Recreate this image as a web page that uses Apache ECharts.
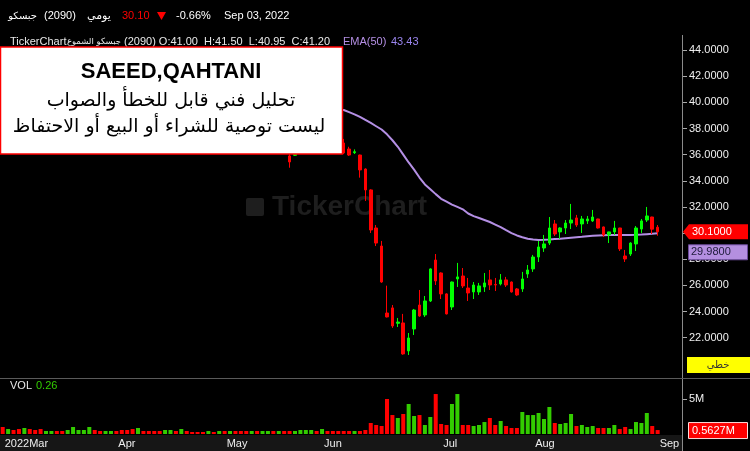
<!DOCTYPE html>
<html><head><meta charset="utf-8">
<script src="https://cdn.jsdelivr.net/npm/echarts@6/dist/echarts.min.js"></script>
<style>html,body{margin:0;padding:0;background:#000;overflow:hidden}#c{width:750px;height:451px}</style>
</head><body><div id="c"></div>
<script>
// ---- categories (trading days) ----
const marDays = [3,6,7,8,9,10,13,14,15,16,17,20,21,22,23,24,27,28,29,30,31];
const aprDays = [3,4,5,6,7,10,11,12,13,14,17,18,19,20,21,24,25,26,27,28];
const mayDays = [8,9,10,11,12,15,16,17,18,19,22,23,24,25,26,29,30,31];
const junDays = [1,2,5,6,7,8,9,12,13,14,15,16,19,20,21,22,23,26,27,28,29,30];
const julDays = [3,4,5,6,7,14,17,18,19,20,21,24,25,26,27,28,31];
const augDays = [1,2,3,4,7,8,9,10,11,14,15,16,17,18,21,22,23,24,25,28,29,30,31];
const sepDays = [1];
const monthLabels = ['2022Mar','Apr','May','Jun','Jul','Aug','Sep'];
const priceTicks = [22,24,26,28,30,32,34,36,38,40,42,44];
const volTicks = [5];

// ---- OHLC: [open, close, low, high] ----
const candles = [
[41.6,41.2,41.0,41.8],[41.2,41.5,41.0,41.7],[41.5,41.1,40.9,41.6],[41.1,40.7,40.5,41.3],[40.7,41.3,40.6,41.5],
[41.3,41.0,40.8,41.4],[41.0,40.6,40.4,41.1],[40.6,40.2,40.0,40.8],[40.2,40.6,40.1,40.8],[40.6,41.0,40.5,41.2],
[41.0,40.8,40.6,41.2],[40.8,40.5,40.3,40.9],[40.5,40.9,40.4,41.0],[40.9,41.6,40.8,41.8],[41.6,41.9,41.4,42.1],
[41.9,42.2,41.7,42.4],[42.2,42.9,42.1,43.1],[42.9,42.5,42.3,43.0],[42.5,42.2,42.0,42.6],[42.2,42.5,42.1,42.7],
[42.5,42.8,42.4,43.0],[42.8,42.4,42.2,42.9],[42.4,42.0,41.8,42.5],[42.0,41.6,41.4,42.1],[41.6,41.1,40.9,41.7],
[41.1,41.7,41.0,41.9],[41.7,41.4,41.2,41.8],[41.4,41.1,40.9,41.5],[41.1,40.9,40.7,41.2],[40.9,40.6,40.4,41.0],
[40.6,40.9,40.5,41.1],[40.9,41.2,40.8,41.4],[41.2,40.9,40.7,41.3],[40.9,41.4,40.8,41.6],[41.4,41.0,40.8,41.5],
[41.0,40.8,40.6,41.1],[40.8,40.5,40.4,40.9],[40.5,40.2,40.0,40.6],[40.2,40.5,40.1,40.7],[40.5,40.2,40.0,40.6],
[40.2,40.4,40.1,40.6],[40.4,39.9,39.7,40.5],[39.9,40.2,39.8,40.4],[40.2,39.7,39.5,40.3],[39.7,39.3,39.1,39.8],
[39.3,38.9,38.7,39.4],[38.9,39.2,38.8,39.4],[39.2,38.7,38.5,39.3],[38.7,39.0,38.6,39.2],[39.0,39.3,38.9,39.5],
[39.3,38.6,38.4,39.4],[38.6,38.9,38.3,39.1],[38.9,37.8,37.5,39.0],[35.90,35.44,35.00,36.40],[35.95,36.02,35.90,36.30],
[36.40,36.90,36.30,37.10],[36.90,37.40,36.70,37.60],[37.40,37.80,37.20,38.00],[37.80,37.40,37.20,37.90],[37.40,37.80,37.30,38.00],
[37.80,37.50,37.30,37.90],[37.50,37.20,37.00,37.60],[37.20,36.90,36.70,37.30],[36.89,36.13,36.05,37.20],[36.43,35.97,35.90,36.60],
[36.15,36.22,36.05,36.40],[35.97,34.83,34.24,36.00],[34.90,33.30,32.46,34.95],[33.30,30.24,30.01,33.35],[30.39,29.24,29.01,30.62],
[29.01,26.26,26.20,29.40],[23.89,23.59,23.55,25.98],[24.28,22.90,22.75,24.50],[23.10,23.20,22.82,23.51],[23.13,20.76,20.70,23.82],
[20.99,21.98,20.68,22.36],[22.67,24.12,22.21,24.20],[24.50,23.66,23.60,25.65],[23.74,24.81,23.59,25.19],[24.81,27.26,24.73,27.30],
[27.94,26.34,26.03,28.40],[26.95,25.35,24.96,27.00],[25.35,23.82,23.78,25.40],[24.35,26.26,24.12,26.30],[26.49,26.65,25.88,27.72],
[26.72,25.96,25.80,27.33],[25.80,25.42,24.81,26.57],[25.50,26.03,24.96,26.26],[25.50,25.96,25.27,26.19],[25.88,26.19,25.50,26.95],
[26.42,26.03,25.65,27.18],[26.07,26.03,25.57,26.57],[26.11,26.42,26.00,26.87],[26.42,26.03,25.88,26.65],[26.26,25.50,25.45,26.30],
[25.73,25.27,25.20,25.80],[25.73,26.49,25.50,27.03],[26.87,27.18,26.57,27.56],[27.26,28.17,27.03,28.33],[28.17,28.94,27.79,29.40],
[28.86,29.17,28.56,29.86],[29.24,30.39,29.09,31.23],[30.70,29.93,29.78,31.00],[30.09,30.39,29.55,30.45],[30.39,30.77,29.93,31.00],
[30.77,31.00,30.31,32.23],[31.16,30.62,30.47,31.39],[30.70,31.08,30.01,31.31],[30.93,31.08,30.70,31.31],[30.93,31.23,30.85,31.77],
[31.08,30.39,30.35,31.10],[30.47,29.86,29.70,30.50],[29.86,30.09,29.24,30.10],[30.09,30.39,29.86,30.93],[30.39,28.79,28.63,30.40],
[28.25,28.02,27.79,28.71],[28.40,29.24,28.25,29.30],[29.17,30.39,28.63,30.54],[30.31,30.93,30.01,31.08],[31.00,31.31,30.85,32.00],
[31.23,30.30,29.93,31.25],[30.45,30.10,29.80,30.62]
];

// ---- EMA(50) ----
const ema50 = [
43.43,43.35,43.27,43.18,43.11,43.03,42.94,42.84,42.76,42.70,
42.63,42.55,42.49,42.45,42.43,42.42,42.44,42.44,42.43,42.43,
42.44,42.44,42.42,42.38,42.33,42.30,42.26,42.21,42.15,42.09,
42.04,42.01,41.96,41.94,41.90,41.85,41.79,41.72,41.67,41.61,
41.56,41.49,41.44,41.37,41.28,41.19,41.12,41.03,40.95,40.89,
40.80,40.72,40.60,40.40,40.22,40.07,39.95,39.87,39.77,39.69,
39.60,39.52,39.45,39.41,39.25,39.08,38.88,38.65,38.42,38.17,
37.92,37.55,37.10,36.60,36.00,35.40,34.85,34.25,33.72,33.35,
32.98,32.62,32.40,32.18,32.00,31.82,31.50,31.30,31.15,31.00,
30.85,30.65,30.45,30.22,30.00,29.82,29.68,29.57,29.51,29.48,
29.49,29.51,29.54,29.57,29.61,29.65,29.69,29.72,29.76,29.79,
29.82,29.84,29.85,29.86,29.86,29.85,29.86,29.87,29.89,29.92,
29.95,29.98
];

// ---- volume (millions) ----
const volumes = [
1.00,0.71,0.57,0.71,0.86,0.71,0.57,0.71,0.43,0.43,
0.43,0.43,0.57,1.00,0.57,0.57,1.00,0.57,0.43,0.43,
0.43,0.43,0.57,0.57,0.71,0.86,0.43,0.43,0.43,0.43,
0.57,0.57,0.43,0.71,0.43,0.29,0.29,0.29,0.43,0.29,
0.43,0.43,0.43,0.43,0.43,0.43,0.43,0.43,0.43,0.43,
0.43,0.43,0.43,0.43,0.43,0.57,0.57,0.57,0.43,0.71,
0.43,0.43,0.43,0.43,0.43,0.43,0.43,0.57,1.57,
1.29,1.14,5.00,2.71,2.29,2.86,4.29,2.57,2.71,1.29,
2.43,5.71,1.43,1.29,4.29,5.71,1.29,1.29,1.14,1.29,
1.71,2.29,1.29,1.86,1.14,0.86,0.86,3.14,2.71,2.71,
3.00,2.14,3.86,1.57,1.43,1.57,2.86,1.14,1.29,1.00,
1.14,0.86,0.86,0.86,1.29,0.71,1.00,0.71,1.71,1.57,
3.00,1.14,0.5627
];

// ---- build categories ----
const months = [['03',marDays],['04',aprDays],['05',mayDays],['06',junDays],['07',julDays],['08',augDays],['09',sepDays]];
const dates = [];
const monthStart = {};
months.forEach(([m, days], mi) => {
  days.forEach((d, di) => {
    if (di === 0) monthStart[dates.length] = monthLabels[mi];
    dates.push('2022-' + m + '-' + String(d).padStart(2,'0'));
  });
});
const cats = dates.concat(['', '', '', '']);
const isStart = (i) => monthStart.hasOwnProperty(i);

const FONT = '"Liberation Sans", Arial, "DejaVu Sans", sans-serif';
const AR = '"DejaVu Sans", sans-serif';
const GREEN = '#00ff00', RED = '#ff0000';

const chart = echarts.init(document.getElementById('c'));
chart.setOption({
  backgroundColor: '#000',
  animation: false,
  grid: [
    {left: -1.5, right: 68, top: 35, height: 343},
    {left: -1.5, right: 68, top: 378, height: 56}
  ],
  xAxis: [
    {type: 'category', gridIndex: 0, data: cats, boundaryGap: true, show: false},
    {type: 'category', gridIndex: 1, data: cats, boundaryGap: true,
     axisLine: {show: false},
     axisTick: {show: true, inside: true, length: 3, alignWithLabel: true,
                interval: (i) => isStart(i), lineStyle: {color: '#aaa'}},
     axisLabel: {interval: (i) => isStart(i), formatter: (v, i) => monthStart[i] || '',
                 color: '#eeeeee', fontSize: 11, fontFamily: FONT, align: 'left',
                 margin: 4, padding: [0, 0, 0, 2]}}
  ],
  yAxis: [
    {type: 'value', gridIndex: 0, position: 'right', min: 18.92, max: 45.147, scale: true,
     splitLine: {show: false}, axisLine: {show: false},
     axisTick: {show: true, length: 5, lineStyle: {color: '#aaa'}, customValues: priceTicks},
     axisLabel: {customValues: priceTicks, formatter: (v) => v.toFixed(4), color: '#f0f0f0',
                 fontSize: 11, fontFamily: FONT, margin: 7}},
    {type: 'value', gridIndex: 1, position: 'right', min: 0, max: 8,
     splitLine: {show: false}, axisLine: {show: false},
     axisTick: {show: true, length: 5, lineStyle: {color: '#aaa'}, customValues: volTicks},
     axisLabel: {customValues: volTicks, formatter: (v) => v + 'M', color: '#f0f0f0',
                 fontSize: 11, fontFamily: FONT, margin: 7}}
  ],
  series: [
    {type: 'line', xAxisIndex: 0, yAxisIndex: 0, data: ema50, symbol: 'none', z: 1,
     lineStyle: {color: '#b48fe4', width: 2}},
    {type: 'candlestick', xAxisIndex: 0, yAxisIndex: 0, data: candles, barWidth: 3, z: 3,
     itemStyle: {color: GREEN, color0: RED, borderColor: GREEN, borderColor0: RED,
                 borderColorDoji: GREEN, borderWidth: 1}},
    {type: 'bar', xAxisIndex: 1, yAxisIndex: 1, data: volumes, barWidth: 4,
     itemStyle: {color: (p) => { const c = candles[p.dataIndex]; return c[1] >= c[0] ? '#33cc00' : RED; }}}
  ]
});

// annotation positions from scales
const lastC = candles[candles.length - 1][1];
const lastE = ema50[ema50.length - 1];
const lastV = volumes[volumes.length - 1];
const yP = chart.convertToPixel({yAxisIndex: 0}, lastC);
const yV = chart.convertToPixel({yAxisIndex: 1}, lastV);

function txt(text, x, y, fill, font, align, z) {
  return {type: 'text', z: z || 50, style: {text, x, y, fill, font, align: align || 'left', verticalAlign: 'middle',
          textAlign: align || 'left', textVerticalAlign: 'middle'}};
}
const g = [
  // x-axis band
  {type: 'rect', z: -5, shape: {x: 0, y: 435, width: 682, height: 16}, style: {fill: '#161616'}},
  // watermark
  {type: 'rect', z: -5, shape: {x: 246, y: 198, width: 18, height: 18, r: 2}, style: {fill: '#1e1e1e'}},
  {type: 'text', z: -5, style: {text: 'TickerChart', x: 272, y: 207, fill: '#1e1e1e', font: 'bold 28px "Liberation Sans", Arial', align: 'left', verticalAlign: 'middle', textAlign: 'left', textVerticalAlign: 'middle'}},
  // axis line & divider
  {type: 'line', z: 40, shape: {x1: 682.5, y1: 35, x2: 682.5, y2: 451}, style: {stroke: '#8a8a8a', lineWidth: 1}},
  {type: 'line', z: 40, shape: {x1: 0, y1: 378.5, x2: 750, y2: 378.5}, style: {stroke: '#5a5a5a', lineWidth: 1}},
  // top bar
  txt('جبسكو', 37, 16, '#ffffff', '10px ' + AR, 'right'),
  txt('(2090)', 44, 16, '#ffffff', '11px ' + FONT),
  txt('يومي', 87, 16, '#ffffff', '11px ' + AR),
  txt('30.10', 122, 16, '#ff0000', '11px ' + FONT),
  {type: 'polygon', z: 50, shape: {points: [[157, 12], [166, 12], [161.5, 20]]}, style: {fill: '#ff0000'}},
  txt('-0.66%', 176, 16, '#ffffff', '11px ' + FONT),
  txt('Sep 03, 2022', 224, 16, '#ffffff', '11px ' + FONT),
  // legend row
  txt('TickerChart', 10, 42, '#e8e8e8', '11px ' + FONT),
  txt('جبسكو الشموع', 121, 42, '#e8e8e8', '8.5px ' + AR, 'right'),
  txt('(2090) O:41.00  H:41.50  L:40.95  C:41.20', 124, 42, '#e8e8e8', '11px ' + FONT),
  txt('EMA(50)', 343, 42, '#b48fe4', '11px ' + FONT),
  txt('43.43', 391, 42, '#9b86f0', '11px ' + FONT),
  // volume legend
  txt('VOL', 10, 386, '#e8e8e8', '11px ' + FONT),
  txt('0.26', 36, 386, '#33cc00', '11px ' + FONT),
  // white note box
  {type: 'rect', z: 90, shape: {x: 0.5, y: 47, width: 342, height: 107}, style: {fill: '#ffffff', stroke: '#ff0000', lineWidth: 1.5}},
  txt('SAEED,QAHTANI', 171, 72, '#000000', 'bold 22px "Liberation Sans", Arial', 'center', 95),
  txt('تحليل فني قابل للخطأ والصواب', 171, 101, '#000000', '19px ' + AR, 'center', 95),
  txt('ليست توصية للشراء أو البيع أو الاحتفاظ', 169, 127, '#000000', '19px ' + AR, 'center', 95),
  // price tag
  {type: 'polygon', z: 60, shape: {points: [[683, yP], [689, yP - 7.5], [748, yP - 7.5], [748, yP + 7.5], [689, yP + 7.5]]}, style: {fill: '#ff0000'}},
  txt(lastC.toFixed(4), 692, yP, '#ffffff', '11px ' + FONT, 'left', 61),
  // EMA tag
  {type: 'rect', z: 60, shape: {x: 688.5, y: yP + 13, width: 59, height: 15}, style: {fill: '#b48fe0', stroke: '#6b4a9a', lineWidth: 1}},
  txt(lastE.toFixed(4), 691, yP + 20.5, '#1e1a3a', '11px ' + FONT, 'left', 61),
  // yellow box
  {type: 'rect', z: 60, shape: {x: 687, y: 357, width: 63, height: 16}, style: {fill: '#ffff00'}},
  txt('خطي', 718, 365, '#333333', '10px ' + AR, 'center', 61),
  // volume tag
  {type: 'rect', z: 60, shape: {x: 688.5, y: yV - 7.5, width: 59, height: 16}, style: {fill: '#ff0000', stroke: '#ffdddd', lineWidth: 1}},
  txt(lastV.toFixed(4) + 'M', 692, yV + 0.5, '#ffffff', '11px ' + FONT, 'left', 61)
];
chart.setOption({graphic: {elements: g}});
</script></body></html>
